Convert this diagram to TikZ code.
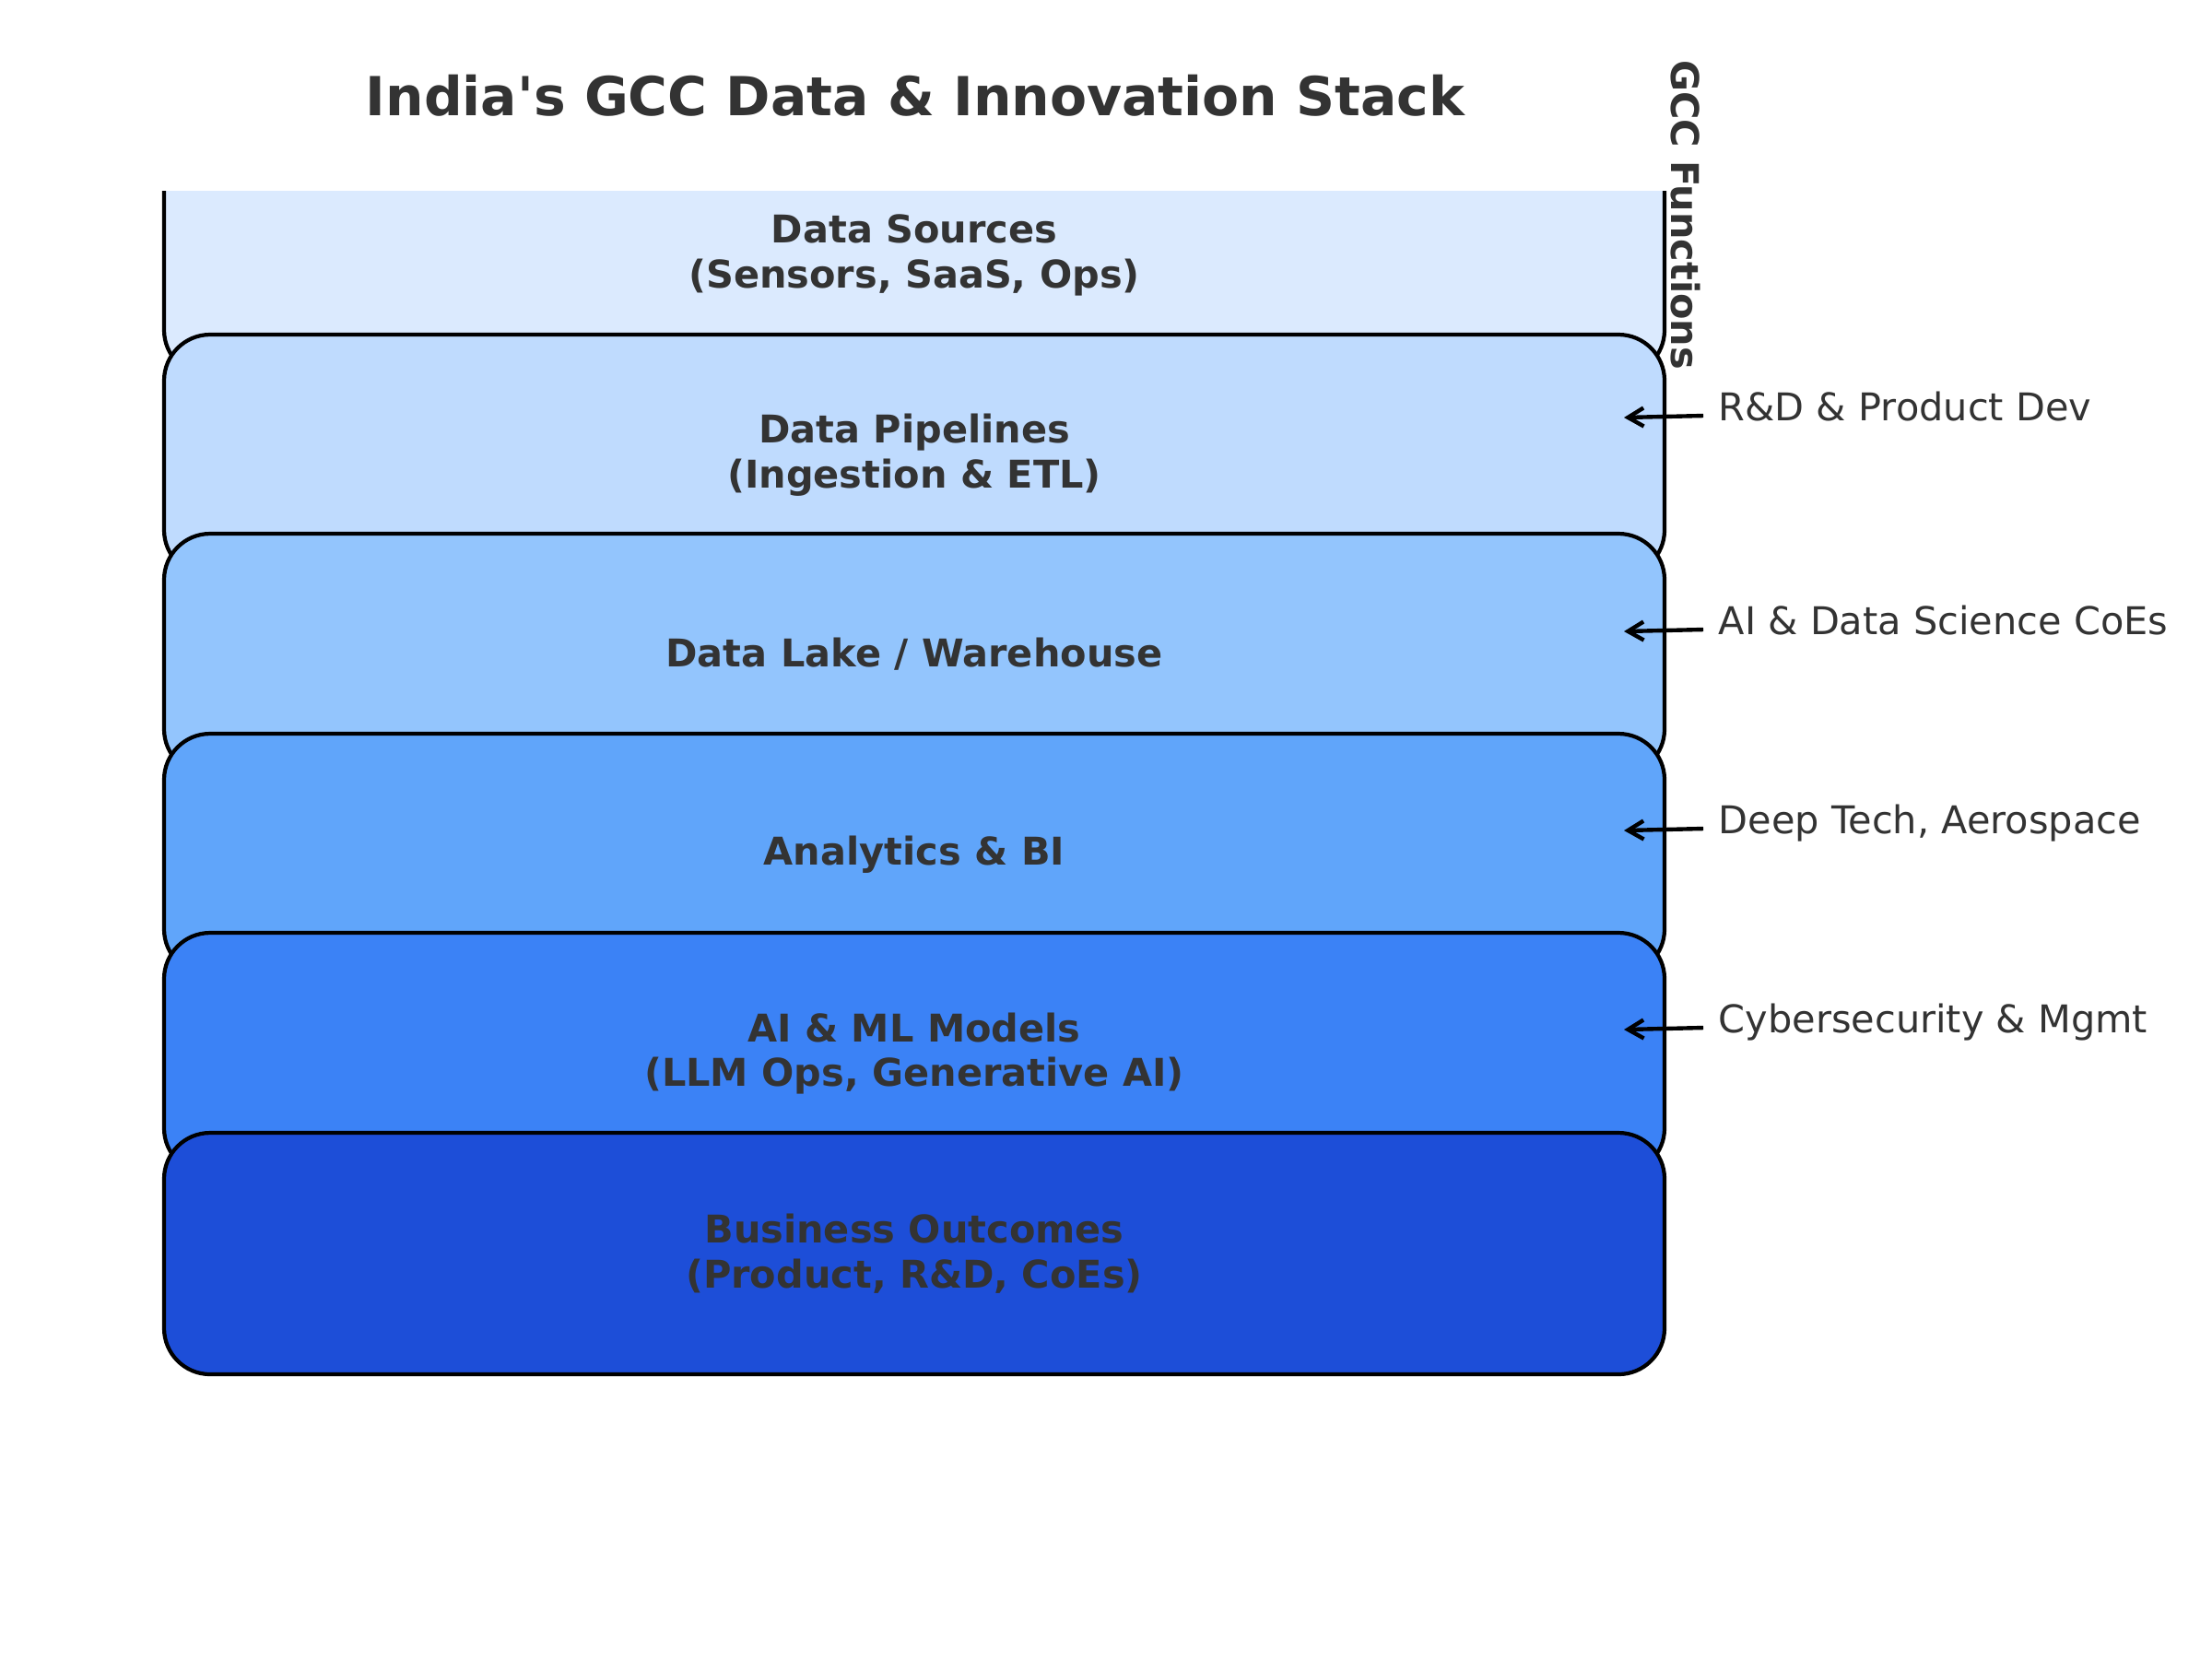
\documentclass[tikz,border=0pt]{standalone}
\usepackage{fontspec}
\setmainfont{DejaVu Sans}
\usetikzlibrary{arrows.meta}
\definecolor{txt}{HTML}{333333}
\definecolor{cA}{HTML}{DBEAFE}
\definecolor{cB}{HTML}{BFDBFE}
\definecolor{cC}{HTML}{93C5FD}
\definecolor{cD}{HTML}{60A5FA}
\definecolor{cE}{HTML}{3B82F6}
\definecolor{cF}{HTML}{1D4ED8}
\begin{document}
\begin{tikzpicture}[x=1cm,y=1cm,
  layer/.style={draw=black, line width=1.2pt, rounded corners=0.5cm,
    minimum width=16.28cm, minimum height=2.62cm, align=center,
    font=\fontsize{11.8}{13.9}\selectfont\bfseries, text=txt, inner sep=0pt},
  fn/.style={anchor=base west, font=\fontsize{11.8}{14}\selectfont, text=txt, inner sep=0pt},
  pointer/.style={-{Straight Barb[length=0.17cm,width=0.2cm]}, line width=1.25pt, draw=black}]
\useasboundingbox (0,0) rectangle (24,-18);
\fill[white] (0,0) rectangle (24,-18);

\node[font=\fontsize{16.6}{20}\selectfont\bfseries, text=txt] (title) at (9.93,-1.04) {India\textquotesingle s GCC Data \& Innovation Stack};

\begin{scope}
  \clip (0,-2.07) rectangle (24,-18);
  \node[layer, fill=cA] (src) at (9.92,-2.77) {Data Sources\\(Sensors, SaaS, Ops)};
\end{scope}
\node[layer, fill=cB] (pipe) at (9.92,-4.94) {Data Pipelines\\(Ingestion \& ETL)};
\node[layer, fill=cC] (lake) at (9.92,-7.10) {Data Lake / Warehouse};
\node[layer, fill=cD] (bi) at (9.92,-9.27) {Analytics \& BI};
\node[layer, fill=cE] (ml) at (9.92,-11.43) {AI \& ML Models\\(LLM Ops, Generative AI)};
\node[layer, fill=cF] (biz) at (9.92,-13.60) {Business Outcomes\\(Product, R\&D, CoEs)};

\node[rotate=-90, font=\fontsize{11.8}{14}\selectfont\bfseries, text=txt, inner sep=0pt] (gcc) at (18.29,-2.33) {GCC Functions};

\node[fn] (f1) at (18.64,-4.56) {R\&D \& Product Dev};
\node[fn] (f2) at (18.64,-6.88) {AI \& Data Science CoEs};
\node[fn] (f3) at (18.64,-9.04) {Deep Tech, Aerospace};
\node[fn] (f4) at (18.64,-11.20) {Cybersecurity \& Mgmt};

\coordinate (h1) at (17.62,-4.53);
\coordinate (h2) at (17.62,-6.85);
\coordinate (h3) at (17.62,-9.01);
\coordinate (h4) at (17.62,-11.17);

\draw[pointer] ([xshift=-0.16cm,yshift=0.05cm]f1.base west) -- (h1);
\draw[pointer] ([xshift=-0.16cm,yshift=0.05cm]f2.base west) -- (h2);
\draw[pointer] ([xshift=-0.16cm,yshift=0.05cm]f3.base west) -- (h3);
\draw[pointer] ([xshift=-0.16cm,yshift=0.05cm]f4.base west) -- (h4);
\end{tikzpicture}
\end{document}
